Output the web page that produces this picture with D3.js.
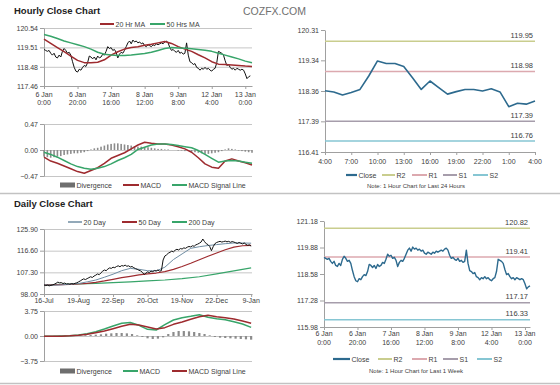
<!DOCTYPE html>
<html>
<head>
<meta charset="utf-8">
<script src="https://cdn.jsdelivr.net/npm/d3@7"></script>
<style>
body { margin: 0; background: #fff; }
svg text { font-family: 'Liberation Sans', Arial, sans-serif; }
</style>
</head>
<body>
<svg id="board" width="560" height="385"></svg>
<script>
// hourly series, 6 Jan 0:00 -> 13 Jan ~3:00 (weekend skipped), one value per hour
var hourTicks = [0, 20, 40, 60, 80, 100, 120];
var hourTickDays = ['6 Jan', '6 Jan', '7 Jan', '8 Jan', '9 Jan', '12 Jan', '13 Jan'];
var hourTickTimes = ['0:00', '20:00', '16:00', '12:00', '8:00', '4:00', '0:00'];
var hourlyClose = [
    119.40, 119.35, 119.30, 119.35, 119.20, 119.10, 119.20, 119.00, 118.95, 119.10,
    119.00, 119.30, 119.45, 119.35, 119.20, 119.25, 119.10, 118.75, 118.45, 118.25,
    118.20, 118.35, 118.30, 118.45, 118.55, 118.50, 118.70, 119.05, 119.00, 118.90,
    119.00, 118.85, 119.05, 118.95, 119.00, 119.15, 119.10, 119.30, 119.55, 119.45,
    119.50, 119.35, 119.40, 119.25, 118.95, 119.15, 119.25, 119.20, 119.35, 119.55,
    119.75, 119.85, 119.70, 119.90, 119.80, 119.85, 119.75, 119.80, 119.70, 119.75,
    119.60, 119.55, 119.65, 119.60, 119.55, 119.65, 119.60, 119.70, 119.65, 119.70,
    119.75, 119.70, 119.80, 119.85, 119.75, 119.50, 119.35, 119.40, 119.30, 119.25,
    119.35, 119.20, 119.25, 119.15, 119.20, 119.75, 119.10, 118.75, 118.70, 118.60,
    118.65, 118.45, 118.40, 118.30, 118.40, 118.35, 118.45, 118.35, 118.40, 118.30,
    118.25, 118.35, 118.40, 118.70, 119.30, 119.25, 119.20, 119.10, 118.80, 118.55,
    118.60, 118.45, 118.35, 118.40, 118.30, 118.40, 118.35, 118.30, 118.35, 118.30,
    118.10, 117.85, 117.95, 118.00
];
// moving averages and MACD, one value every 4 hours (0, 4, ... 124)
var ma20Hr = [
    119.95, 119.72, 119.50, 119.28, 119.05, 118.82, 118.70, 118.70, 118.72, 118.85,
    119.10, 119.28, 119.42, 119.50, 119.55, 119.62, 119.68, 119.75, 119.82, 119.72,
    119.55, 119.42, 119.30, 119.12, 118.95, 118.75, 118.62, 118.60, 118.58, 118.55,
    118.52, 118.50
];
var ma50Hr = [
    120.20, 120.10, 119.98, 119.85, 119.75, 119.65, 119.55, 119.42, 119.25, 119.15,
    119.10, 119.08, 119.08, 119.10, 119.14, 119.18, 119.25, 119.35, 119.45, 119.50,
    119.48, 119.46, 119.44, 119.40, 119.36, 119.30, 119.20, 119.10, 119.00, 118.90,
    118.78, 118.70
];
var hourMacd = [
    -0.13, -0.20, -0.24, -0.29, -0.34, -0.39, -0.42, -0.37, -0.32, -0.24,
    -0.15, -0.10, -0.05, 0.02, 0.09, 0.14, 0.12, 0.11, 0.11, 0.09,
    0.06, 0.02, -0.04, -0.14, -0.25, -0.31, -0.33, -0.20, -0.16, -0.20,
    -0.23, -0.27
];
var hourSignal = [
    -0.04, -0.08, -0.13, -0.19, -0.25, -0.30, -0.33, -0.35, -0.33, -0.30,
    -0.25, -0.19, -0.14, -0.08, 0.01, 0.05, 0.09, 0.11, 0.11, 0.10,
    0.08, 0.06, 0.04, -0.01, -0.08, -0.15, -0.22, -0.20, -0.19, -0.20,
    -0.22, -0.24
];
// divergence, one bar every 2 hours
var hourDiv = [
    -0.12, -0.13, -0.14, -0.13, -0.12, -0.11, -0.09, -0.08, -0.07, -0.06,
    -0.06, -0.05, -0.04, -0.02, 0.01, 0.03, 0.04, 0.06, 0.08, 0.10,
    0.11, 0.12, 0.12, 0.11, 0.10, 0.09, 0.08, 0.07, 0.06, 0.06,
    0.05, 0.05, 0.04, 0.03, 0.02, 0.02, 0.01, 0.01, 0.00, 0.00,
    -0.01, -0.01, -0.02, -0.02, -0.03, -0.04, -0.05, -0.06, -0.07, -0.07,
    -0.06, -0.05, -0.04, -0.02, 0.01, 0.03, 0.02, 0.01, -0.01, -0.02,
    -0.03, -0.04, -0.05
];

// daily series, 16-Jul -> 9-Jan
var dayTicks = [0, 20, 40, 60, 80, 100, 120];
var dayTickLabels = ['16-Jul', '19-Aug', '22-Sep', '20-Oct', '19-Nov', '22-Dec', '9-Jan'];
var dailyClose = [
    101.9, 101.6, 101.8, 101.5, 101.7, 101.9, 102.2, 102.6, 103.1, 102.8,
    102.9, 102.5, 102.7, 102.3, 102.4, 102.2, 102.5, 102.3, 102.6, 102.8,
    103.2, 103.6, 104.1, 104.5, 104.2, 104.6, 105.0, 105.4, 105.1, 105.7,
    106.1, 106.6, 106.3, 107.1, 107.8, 108.3, 108.0, 108.7, 109.2, 109.0,
    109.5, 109.3, 109.8, 110.1, 109.7, 110.2, 110.0, 110.4, 109.9, 110.1,
    109.6, 109.8, 109.3, 108.9, 108.6, 108.2, 107.9, 107.3, 106.4, 106.9,
    107.5, 107.2, 107.8, 107.6, 108.1, 107.9, 108.3, 107.8, 108.0, 112.6,
    114.3, 114.8, 115.5, 115.9, 116.4, 116.1, 116.8, 117.2, 116.9, 117.5,
    117.3, 117.8, 117.6, 118.1, 118.4, 118.2, 118.7, 118.5, 119.1, 119.4,
    119.8, 120.3, 121.6, 120.5, 119.6, 119.2, 118.4, 116.6, 118.3, 119.6,
    120.1, 120.4, 120.6, 120.3, 120.5, 120.7, 120.4, 120.6, 120.2, 120.5,
    120.3, 120.0, 119.7, 120.1, 119.8, 119.5, 119.9, 119.3, 118.9, 119.1,
    118.5
];
// one value every 5 points
var ma20Day = [
    101.9, 101.8, 101.9, 102.2, 102.5, 103.2, 104.0, 105.2, 106.5, 108.0,
    109.0, 108.6, 108.0, 107.9, 109.5, 112.8, 115.2, 117.6, 118.3, 118.8,
    119.2, 119.6, 119.9, 119.9, 119.8
];
var ma50Day = [
    101.9, 101.9, 102.0, 102.1, 102.3, 102.6, 103.0, 103.6, 104.3, 105.0,
    105.6, 106.2, 106.6, 107.0, 107.6, 108.6, 109.8, 111.2, 112.7, 114.2,
    115.6, 117.0, 118.1, 118.7, 118.9
];
// one value every 10 points
var ma200Day = [101.9, 102.1, 102.3, 102.6, 102.9, 103.2, 103.6, 104.0, 104.6, 105.4, 106.6, 107.9, 109.2];
// one value every 5 points
var dayMacd = [
    -0.05, -0.05, 0.00, 0.05, 0.15, 0.35, 0.65, 1.05, 1.50, 1.90,
    2.02, 1.60, 1.00, 0.90, 1.70, 2.40, 2.75, 2.95, 3.20, 2.80,
    2.60, 2.45, 2.15, 1.80, 1.30
];
var daySignal = [
    -0.05, -0.05, -0.02, 0.02, 0.10, 0.25, 0.50, 0.75, 1.10, 1.45,
    1.75, 1.65, 1.35, 1.05, 1.25, 1.75, 2.10, 2.50, 2.90, 3.10,
    2.90, 2.75, 2.55, 2.25, 1.90
];
// one bar every 3 points
var dayDiv = [
    0.00, 0.00, 0.02, 0.03, 0.05, 0.05, 0.08, 0.10, 0.12, 0.15,
    0.20, 0.25, 0.35, 0.40, 0.45, 0.45, 0.40, 0.30, 0.10, -0.15,
    -0.35, -0.45, -0.40, -0.20, 0.30, 0.60, 0.75, 0.75, 0.70, 0.60,
    0.45, 0.30, 0.10, -0.15, -0.25, -0.30, -0.35, -0.40, -0.45, -0.50,
    -0.55
];

// last 24 hours
var dayHourLabels = ['4:00', '7:00', '10:00', '13:00', '16:00', '19:00', '22:00', '1:00', '4:00'];
var last24Close = [
    118.37, 118.33, 118.23, 118.31, 118.41, 118.84, 119.32, 119.24, 119.24, 119.14,
    118.78, 118.41, 118.68, 118.47, 118.26, 118.34, 118.41, 118.41, 118.36, 118.43,
    118.33, 117.86, 117.97, 117.94, 118.04
];
var pivotNames = ['R2', 'R1', 'S1', 'S2'];
var pivots24 = [119.95, 118.98, 117.39, 116.76];
var pivotsWeek = [120.82, 119.41, 117.17, 116.33];

var C = {
    grid: '#c6c6c6', axis: '#a0a0a0', text: '#404040',
    red: '#9e2b2f', green: '#38a56a', blue: '#2d6a8e', slate: '#6f8ca2',
    div: '#8c8c8c', r2: '#c9cd8e', r1: '#dca9af', s1: '#a69dab', s2: '#86c6d3'
};

var svg = d3.select('#board');
var fmt = d3.format('.2f');

function makePanel(o) {
    var p = {};
    p.x = d3.scaleLinear().domain(o.xDomain).range([o.left, o.right]);
    p.y = d3.scaleLinear().domain(o.yDomain).range([o.bottom, o.top]);
    p.g = svg.append('g');
    if (o.grid) {
        p.g.append('g').attr('transform', 'translate(' + o.left + ',0)')
            .call(d3.axisLeft(p.y).tickValues(o.yTicks).tickSize(-(o.right - o.left)).tickFormat(''))
            .call(function(a) { a.select('.domain').remove(); })
            .selectAll('line').attr('stroke', C.grid);
    }
    var ya = p.g.append('g').attr('transform', 'translate(' + o.left + ',0)')
        .call(d3.axisLeft(p.y).tickValues(o.yTicks).tickSize(4).tickSizeOuter(0).tickPadding(2).tickFormat(fmt));
    ya.select('.domain').attr('stroke', C.axis);
    ya.selectAll('line').attr('stroke', C.axis);
    ya.selectAll('text').attr('font-size', 7).attr('fill', C.text).attr('font-family', null);
    return p;
}

function xAxis(p, ticks, y, withTicks) {
    var a = p.g.append('g').attr('transform', 'translate(0,' + y + ')')
        .call(d3.axisBottom(p.x).tickValues(ticks).tickSize(withTicks ? 3 : 0).tickSizeOuter(0).tickFormat(''));
    a.select('.domain').attr('stroke', C.axis);
    a.selectAll('line').attr('stroke', C.axis);
}

function xLabels(p, ticks, rows, y0) {
    rows.forEach(function(row, r) {
        p.g.append('g').selectAll('text').data(ticks).enter().append('text')
            .attr('x', function(d) { return p.x(d); })
            .attr('y', y0 + r * 8.5)
            .attr('text-anchor', 'middle').attr('font-size', 7).attr('fill', C.text)
            .text(function(d, i) { return row[i]; });
    });
}

function line(p, data, step, color, width) {
    var gen = d3.line()
        .x(function(d, i) { return p.x(i * step); })
        .y(function(d) { return p.y(d); });
    p.g.append('path').datum(data)
        .attr('d', gen).attr('fill', 'none')
        .attr('stroke', color).attr('stroke-width', width)
        .attr('stroke-linejoin', 'round');
}

function bars(p, data, step, w) {
    p.g.append('g').selectAll('rect').data(data).enter().append('rect')
        .attr('x', function(d, i) { return p.x(i * step) - w / 2; })
        .attr('y', function(d) { return Math.min(p.y(d), p.y(0)); })
        .attr('width', w)
        .attr('height', function(d) { return Math.abs(p.y(d) - p.y(0)); })
        .attr('fill', C.div);
}

function legend(items, y) {
    var g = svg.append('g');
    items.forEach(function(it) {
        if (it.box) {
            g.append('rect').attr('x', it.x).attr('y', y - 2.5).attr('width', it.len).attr('height', 5).attr('fill', '#6e6e6e');
        } else {
            g.append('line').attr('x1', it.x).attr('x2', it.x + it.len).attr('y1', y).attr('y2', y)
                .attr('stroke', it.color).attr('stroke-width', it.w || 2);
        }
        g.append('text').attr('x', it.x + it.len + 1.5).attr('y', y + 2.5)
            .attr('font-size', 7).attr('fill', C.text).text(it.label);
    });
}

function levels(p, values, colors, x0, x1) {
    values.forEach(function(v, i) {
        var yy = p.y(v);
        p.g.append('line').attr('x1', x0).attr('x2', x1).attr('y1', yy).attr('y2', yy)
            .attr('stroke', colors[i]).attr('stroke-width', 1.5);
        p.g.append('text').attr('x', x1 - 2).attr('y', yy - 3.5)
            .attr('text-anchor', 'end').attr('font-size', 7.5).attr('fill', C.text).text(fmt(v));
    });
}

// titles & separators
svg.append('text').attr('x', 14).attr('y', 14).attr('font-size', 9.5).attr('font-weight', 'bold').attr('fill', '#222').text('Hourly Close Chart');
svg.append('text').attr('x', 243).attr('y', 15).attr('font-size', 10.5).attr('fill', '#707070').text('COZFX.COM');
svg.append('text').attr('x', 14).attr('y', 207).attr('font-size', 9.5).attr('font-weight', 'bold').attr('fill', '#222').text('Daily Close Chart');
[193.5, 383.5].forEach(function(yy) {
    svg.append('line').attr('x1', 0).attr('x2', 560).attr('y1', yy).attr('y2', yy).attr('stroke', '#c2c2c2').attr('stroke-width', 1.5);
});

// hourly close
var hp = makePanel({ left: 44, right: 252, top: 28, bottom: 86, xDomain: [0, 124], yDomain: [117.46, 120.54],
    yTicks: [117.46, 118.48, 119.51, 120.54], grid: true });
xAxis(hp, hourTicks, 86, true);
xLabels(hp, hourTicks, [hourTickDays, hourTickTimes], 96.5);
line(hp, hourlyClose, 1, '#111', 1);
line(hp, ma20Hr, 4, C.red, 1.5);
line(hp, ma50Hr, 4, C.green, 1.5);
legend([
    { x: 100, len: 14, color: C.red, label: '20 Hr MA' },
    { x: 150, len: 15, color: C.green, label: '50 Hrs MA' }
], 24);

// hourly MACD
var hm = makePanel({ left: 44, right: 252, top: 124, bottom: 176, xDomain: [0, 124], yDomain: [-0.47, 0.47],
    yTicks: [-0.47, 0, 0.47], grid: true });
bars(hm, hourDiv, 2, 1.6);
line(hm, hourMacd, 4, C.red, 1.5);
line(hm, hourSignal, 4, C.green, 1.5);
legend([
    { x: 60, len: 15, box: true, label: 'Divergence' },
    { x: 123, len: 16, color: C.red, label: 'MACD' },
    { x: 172, len: 15, color: C.green, label: 'MACD Signal Line' }
], 185);

// daily close
var dp = makePanel({ left: 44, right: 252, top: 229, bottom: 294, xDomain: [0, 120.5], yDomain: [98, 125.9],
    yTicks: [98, 107.3, 116.6, 125.9], grid: true });
xAxis(dp, dayTicks, 294, true);
xLabels(dp, dayTicks, [dayTickLabels], 303);
line(dp, ma200Day, 10, C.green, 1.2);
line(dp, ma50Day, 5, C.red, 1.2);
line(dp, ma20Day, 5, C.slate, 1);
line(dp, dailyClose, 1, '#111', 1);
legend([
    { x: 68, len: 14, color: C.slate, label: '20 Day', w: 1.5 },
    { x: 122, len: 15, color: C.red, label: '50 Day' },
    { x: 172, len: 15, color: C.green, label: '200 Day' }
], 222);

// daily MACD
var dm = makePanel({ left: 44, right: 252, top: 311, bottom: 361, xDomain: [0, 120.5], yDomain: [-3.75, 3.75],
    yTicks: [-3.75, 0, 3.75], grid: true });
bars(dm, dayDiv, 3, 2.2);
line(dm, dayMacd, 5, C.green, 1.5);
line(dm, daySignal, 5, C.red, 1.5);
legend([
    { x: 60, len: 15, box: true, label: 'Divergence' },
    { x: 123, len: 15, color: C.green, label: 'MACD' },
    { x: 172, len: 15, color: C.red, label: 'MACD Signal Line' }
], 371);

var pivotColors = [C.r2, C.r1, C.s1, C.s2];

// last 24 hours
var rp = makePanel({ left: 325, right: 535, top: 30, bottom: 152, xDomain: [0, 24], yDomain: [116.41, 120.31],
    yTicks: [116.41, 117.39, 118.36, 119.34, 120.31], grid: false });
levels(rp, pivots24, pivotColors, 325, 535);
xAxis(rp, d3.range(0, 25, 3), 152, true);
xLabels(rp, d3.range(0, 25, 3), [dayHourLabels], 164);
line(rp, last24Close, 1, C.blue, 1.6);
legend([
    { x: 346, len: 11, color: C.blue, label: 'Close', w: 2.2 },
    { x: 382, len: 13, color: C.r2, label: 'R2' },
    { x: 412, len: 15, color: C.r1, label: 'R1' },
    { x: 443, len: 14, color: C.s1, label: 'S1' },
    { x: 473, len: 15, color: C.s2, label: 'S2' }
], 175);
svg.append('text').attr('x', 416).attr('y', 188).attr('text-anchor', 'middle').attr('font-size', 6).attr('fill', C.text)
    .text('Note: 1 Hour Chart for Last 24 Hours');

// last week
var wp = makePanel({ left: 324, right: 530, top: 221, bottom: 327, xDomain: [0, 123], yDomain: [115.98, 121.18],
    yTicks: [115.98, 117.28, 118.58, 119.88, 121.18], grid: false });
levels(wp, pivotsWeek, pivotColors, 324, 530);
xAxis(wp, hourTicks, 327, true);
xLabels(wp, hourTicks, [hourTickDays, hourTickTimes], 336);
line(wp, hourlyClose, 1, C.blue, 1.4);
legend([
    { x: 333, len: 17, color: C.blue, label: 'Close', w: 2.2 },
    { x: 378, len: 14, color: C.r2, label: 'R2' },
    { x: 412, len: 15, color: C.r1, label: 'R1' },
    { x: 443, len: 15, color: C.s1, label: 'S1' },
    { x: 477, len: 15, color: C.s2, label: 'S2' }
], 359);
svg.append('text').attr('x', 416).attr('y', 373).attr('text-anchor', 'middle').attr('font-size', 6).attr('fill', C.text)
    .text('Note: 1 Hour Chart for Last 1 Week');
</script>
</body>
</html>
